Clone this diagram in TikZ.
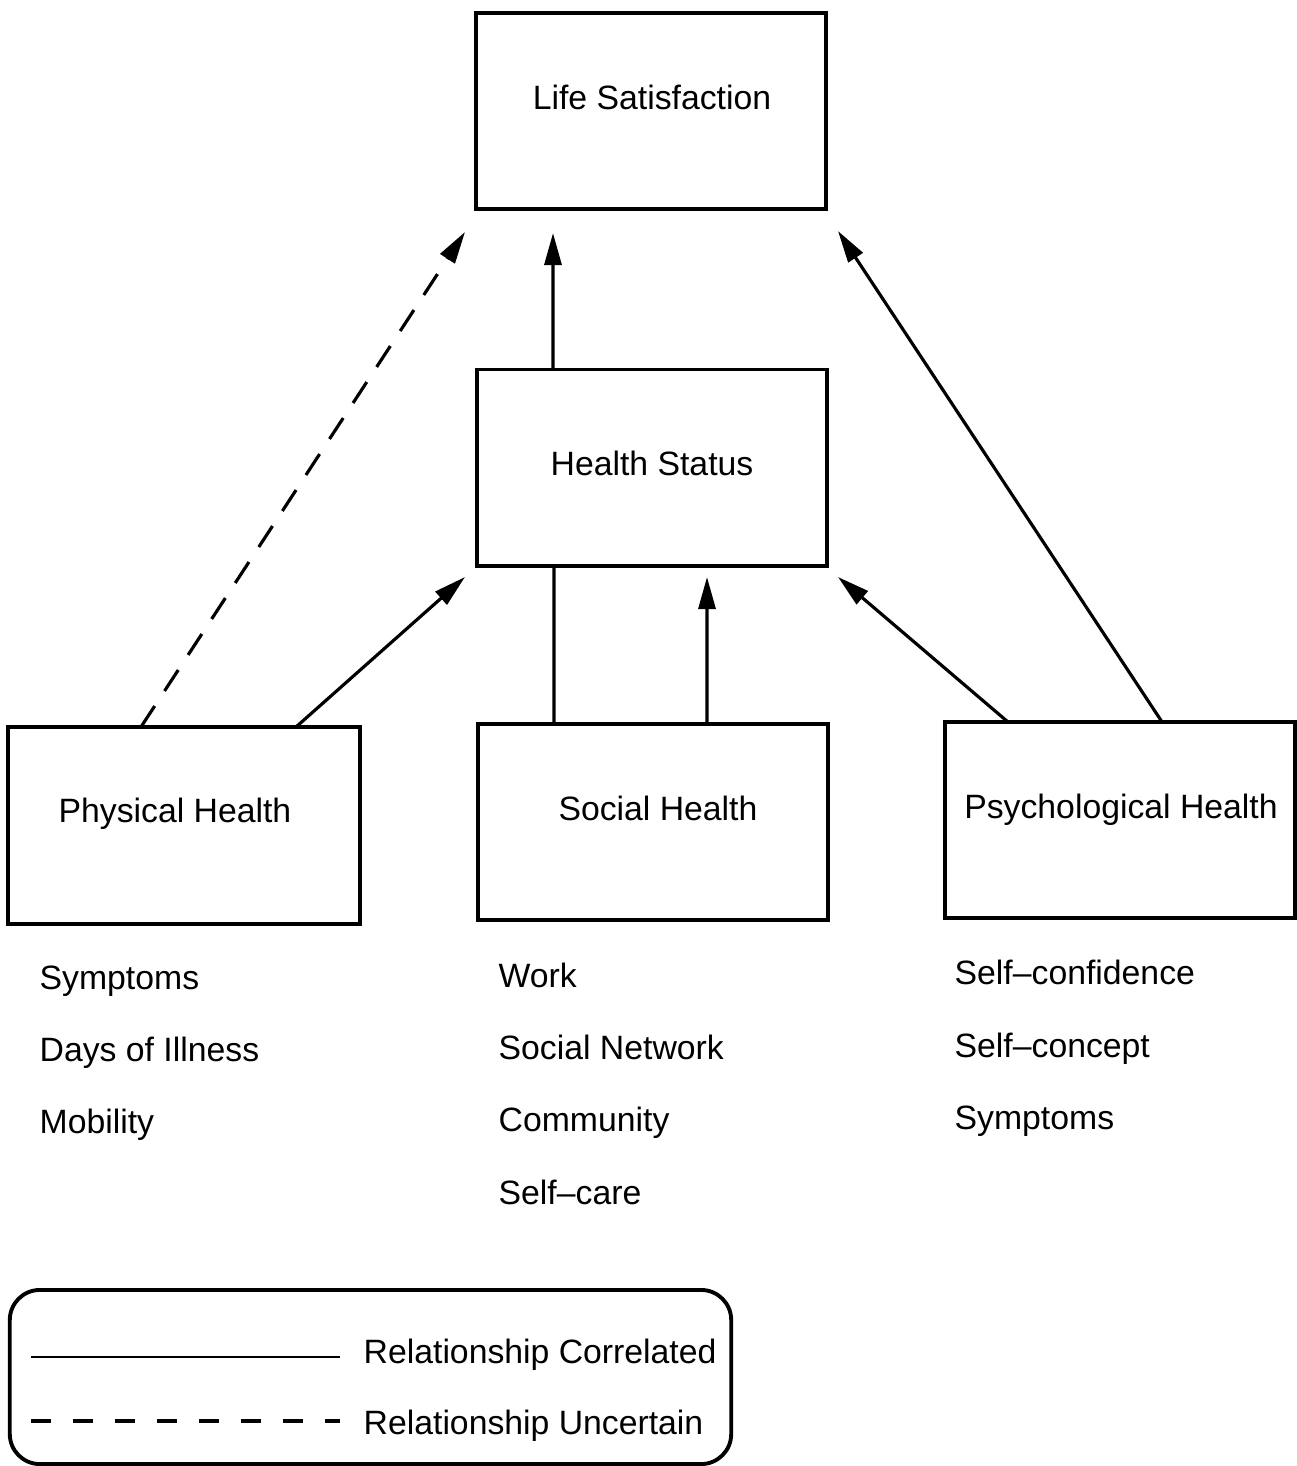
\documentclass[tikz,border=0pt]{standalone}
\usepackage{fontspec}
\setmainfont{Liberation Sans}
\usetikzlibrary{arrows.meta,calc}
\begin{document}
\begin{tikzpicture}[x=0.01cm,y=-0.01cm,
  font=\fontsize{9.6}{11}\selectfont,
  box/.style={draw,line width=1.1pt,minimum width=3.5cm,minimum height=1.96cm,inner sep=0pt,outer sep=0pt},
  lbl/.style={inner sep=0pt,anchor=base},
  item/.style={anchor=base west,inner sep=0pt},
  conn/.style={line width=0.9pt,-{Triangle[length=0.32cm,width=0.17cm]}},
  plain/.style={line width=0.9pt},
  uncertain/.style={line width=0.9pt,dash pattern=on 0.25cm off 0.18cm,-{Triangle[length=0.32cm,width=0.17cm]}}]
\useasboundingbox (0,0) rectangle (1297,1466);

% boxes
\node[box] (ls) at (651,111) {};
\node[lbl] (lsT) at (652,109) {Life Satisfaction};
\node[box] (hs) at (652,467.5) {};
\node[lbl] (hsT) at (652,475) {Health Status};
\node[box,minimum width=3.52cm,minimum height=1.97cm] (ph) at (184,825.5) {};
\node[lbl] (phT) at (175,822) {Physical Health};
\node[box] (sh) at (653,822) {};
\node[lbl] (shT) at (658,820) {Social Health};
\node[box] (psy) at (1120,820) {};
\node[lbl] (psyT) at (1121,818) {Psychological Health};

% free ends of arrows
\coordinate (t1) at (465,232);
\coordinate (t2) at (553,233);
\coordinate (t3) at (838,231);
\coordinate (t4) at (465,577);
\coordinate (t5) at (707,577);
\coordinate (t6) at (838,577);

% connectors
\draw[uncertain] ([xshift=1.33cm]ph.north west) -- (t1);
\draw[conn] ([xshift=0.76cm]hs.north west) -- (t2);
\draw[conn] ([xshift=2.17cm]psy.north west) -- (t3);
\draw[conn] ([xshift=2.88cm]ph.north west) -- (t4);
\draw[plain] ([xshift=0.77cm]hs.south west) -- ([xshift=0.76cm]sh.north west);
\draw[conn] ([xshift=2.29cm]sh.north west) -- (t5);
\draw[conn] ([xshift=0.63cm]psy.north west) -- (t6);

% item lists
\node[item] (p1) at (39,989) {Symptoms};
\node[item] (p2) at (39,1061) {Days of Illness};
\node[item] (p3) at (39,1133) {Mobility};
\node[item] (s1) at (498,987) {Work};
\node[item] (s2) at (498,1059) {Social Network};
\node[item] (s3) at (498,1131) {Community};
\node[item] (s4) at (498,1204) {Self–care};
\node[item] (q1) at (954,984) {Self–confidence};
\node[item] (q2) at (954,1057) {Self–concept};
\node[item] (q3) at (954,1129) {Symptoms};

% legend
\node[draw,line width=1.1pt,rounded corners=0.3cm,minimum width=7.21cm,minimum height=1.74cm,inner sep=0pt] (lg) at (370.5,1377) {};
\coordinate (la1) at (31,1357);
\coordinate (la2) at (340,1357);
\coordinate (lb1) at (31,1421);
\coordinate (lb2) at (340,1421);
\draw[line width=0.8pt] (la1) -- (la2);
\draw[line width=0.9pt,dash pattern=on 0.2cm off 0.22cm] (lb1) -- (lb2);
\node[item] (lgA) at (363,1363) {Relationship Correlated};
\node[item] (lgB) at (363,1434) {Relationship Uncertain};
\end{tikzpicture}
\end{document}
